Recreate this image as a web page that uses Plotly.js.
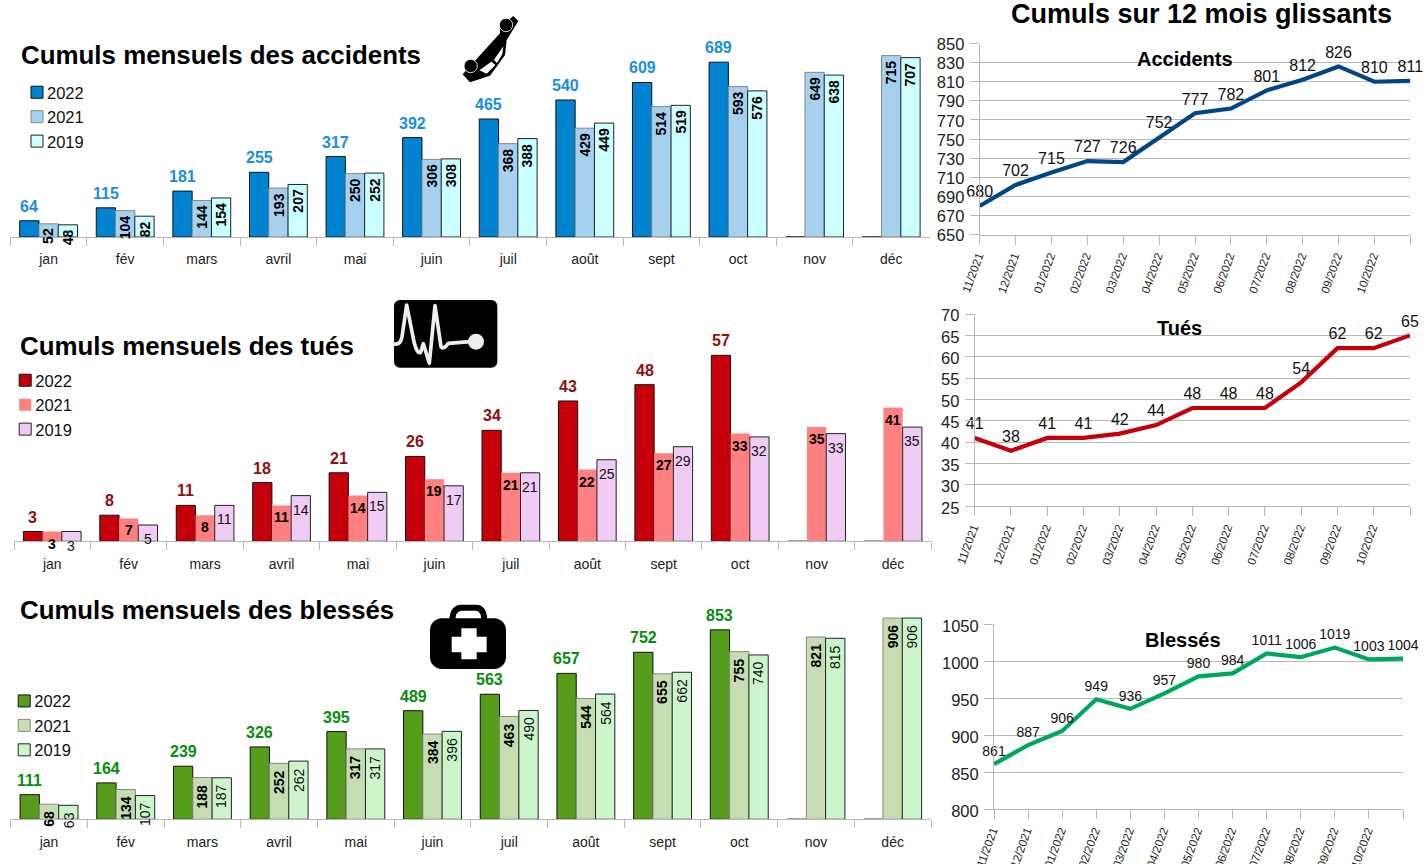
<!DOCTYPE html>
<html><head><meta charset="utf-8">
<script src="https://cdn.plot.ly/plotly-3.0.1.min.js"></script>
<style>html,body{margin:0;padding:0;background:#fff;overflow:hidden}#c{width:1424px;height:864px}
.legendtext,.legend2text,.legend3text{transform:translateX(-10px)}
.y4tick text{translate:0 0.8px}
.y5tick text,.y6tick text{translate:0 1.5px}
.x4tick text,.x5tick text,.x6tick text{translate:-1.5px 0}
</style>
</head><body><div id="c"></div>
<script>
const months = ['jan','fév','mars','avril','mai','juin','juil','août','sept','oct','nov','déc'];
const years = ['2022','2021','2019'];
const rollLabels = ['11/2021','12/2021','01/2022','02/2022','03/2022','04/2022','05/2022','06/2022','07/2022','08/2022','09/2022','10/2022',' '];

const acc2022 = [64,115,181,255,317,392,465,540,609,689,0,0];
const acc2021 = [52,104,144,193,250,306,368,429,514,593,649,715];
const acc2019 = [48,82,154,207,252,308,388,449,519,576,638,707];
const tue2022 = [3,8,11,18,21,26,34,43,48,57,0,0];
const tue2021 = [3,7,8,11,14,19,21,22,27,33,35,41];
const tue2019 = [3,5,11,14,15,17,21,25,29,32,33,35];
const ble2022 = [111,164,239,326,395,489,563,657,752,853,0,0];
const ble2021 = [68,134,188,252,317,384,463,544,655,755,821,906];
const ble2019 = [63,107,187,262,317,396,490,564,662,740,815,906];

const rollAcc = [680,702,715,727,726,752,777,782,801,812,826,810,811];
const rollTue = [41,38,41,41,42,44,48,48,48,54,62,62,65];
const rollBle = [861,887,906,949,936,957,980,984,1011,1006,1019,1003,1004];

const W=1424,H=864,FONT='"Liberation Sans",Arial,sans-serif',GRID='#b8b8b8';
const px=x=>x/W, py=y=>1-y/H;
const layout={width:W,height:H,margin:{l:0,r:0,t:0,b:0},paper_bgcolor:'#fff',plot_bgcolor:'rgba(0,0,0,0)',
  font:{family:FONT,color:'#111'},barmode:'group',bargap:0.245,bargroupgap:0,annotations:[],images:[],hovermode:false};
const traces=[];

function note(xp,yp,text,size,anchor){
  layout.annotations.push({xref:'paper',yref:'paper',x:px(xp),y:py(yp),text:'<b>'+text+'</b>',showarrow:false,
    xanchor:anchor,yanchor:'middle',borderpad:0,font:{size:size,color:'#000',family:FONT}});
}

function barChart(o){
  const n=o.n, xa='xaxis'+(n===1?'':n), ya='yaxis'+(n===1?'':n), xr='x'+(n===1?'':n), yr='y'+(n===1?'':n);
  const bw=(o.x1-o.x0)/12*(1-0.245)/3;
  const yTop=o.base-o.scale*o.ymax;
  layout[xa]={domain:[px(o.x0),px(o.x1)],anchor:yr,type:'category',categoryorder:'array',categoryarray:months,tickson:'boundaries',
    ticks:'outside',ticklen:8,tickcolor:GRID,tickwidth:1,showline:true,linecolor:GRID,linewidth:1,showgrid:false,zeroline:false,
    tickfont:{size:14,color:'#222',family:FONT},ticklabelstandoff:o.standoff,tickangle:0};
  layout[ya]={domain:[py(o.base),py(yTop)],anchor:xr,range:[0,o.ymax],visible:false};
  o.series.forEach((vals,k)=>{
    const st=o.styles[k];
    traces.push({type:'bar',name:years[k],x:months,y:vals,xaxis:xr,yaxis:yr,legend:o.legend,
      marker:{color:st.fill,line:{color:st.line,width:st.lw}},hoverinfo:'skip',cliponaxis:false});
    vals.forEach((v,i)=>{
      if(!v) return;
      const shift=(k-1)*bw, lab=o.labels[k];
      const txt=lab.bold?'<b>'+v+'</b>':String(v);
      const a={xref:xr,yref:yr,x:months[i],y:v,xshift:shift,text:txt,showarrow:false,borderpad:0,
        font:{size:lab.size,color:lab.color,family:FONT},xanchor:'center',yanchor:lab.anchor,yshift:lab.shift};
      if(lab.rot) a.textangle=-90;
      layout.annotations.push(a);
    });
  });
  const lg=o.legend;
  layout[lg]={x:px(o.lx),y:py(o.ly),xref:'paper',yref:'paper',xanchor:'left',yanchor:'top',bgcolor:'rgba(0,0,0,0)',
    font:{size:16.5,color:'#111',family:FONT},traceorder:'normal',itemclick:false,itemdoubleclick:false};
}

function lineChart(o){
  const n=o.n, xa='xaxis'+n, ya='yaxis'+n, xr='x'+n, yr='y'+n;
  layout[xa]={domain:[px(o.x0),px(o.x1)],anchor:yr,type:'category',categoryorder:'array',categoryarray:rollLabels,range:[0,12],dtick:1,tick0:0,
    ticks:'outside',ticklen:9,tickcolor:GRID,tickwidth:1,showline:true,linecolor:GRID,showgrid:false,zeroline:false,
    tickangle:-70,tickfont:{size:11.6,color:'#222',family:FONT}};
  layout[ya]={domain:[py(o.y0),py(o.y1)],anchor:xr,range:o.range,dtick:o.dtick,tick0:o.range[0],ticks:'outside',ticklen:9,tickcolor:GRID,tickwidth:1,
    showline:true,linecolor:GRID,showgrid:true,gridcolor:GRID,gridwidth:1,zeroline:false,tickfont:{size:16.5,color:'#222',family:FONT},ticklabelstandoff:2};
  traces.push({type:'scatter',mode:'lines+markers+text',x:rollLabels,y:o.vals,text:o.vals.map(String),textposition:'top center',
    marker:{size:o.gap,opacity:0,color:o.color},
    textfont:{size:o.lab,color:'#111',family:FONT},line:{color:o.color,width:4.2},xaxis:xr,yaxis:yr,cliponaxis:false,showlegend:false,hoverinfo:'skip'});
}

barChart({n:1,x0:10.3,x1:929.5,base:237,scale:0.2537,ymax:800,standoff:9,legend:'legend',lx:17,ly:75,series:[acc2022,acc2021,acc2019],
  styles:[{fill:'#0084d1',line:'#111',lw:1},{fill:'#a6d1ee',line:'#888',lw:1},{fill:'#ccffff',line:'#222',lw:1}],
  labels:[{bold:true,size:16,color:'#1a8edc',anchor:'bottom',shift:5},{bold:true,size:14,color:'#000',rot:true,anchor:'top',shift:-3.5},{bold:true,size:14,color:'#000',rot:true,anchor:'top',shift:-3.5}]});
barChart({n:2,x0:14,x1:931.3,base:541.3,scale:3.263,ymax:65,standoff:10,legend:'legend2',lx:5.2,ly:363,series:[tue2022,tue2021,tue2019],
  styles:[{fill:'#c5000b',line:'#111',lw:1},{fill:'#ff8080',line:'#ff8080',lw:0},{fill:'#f0ccf5',line:'#222',lw:1}],
  labels:[{bold:true,size:16,color:'#8e1010',anchor:'bottom',shift:5},{bold:true,size:14,color:'#000',anchor:'middle',shift:-12},{bold:false,size:14,color:'#111',anchor:'middle',shift:-14}]});
barChart({n:3,x0:10.7,x1:931,base:819.3,scale:0.2221,ymax:950,standoff:10,legend:'legend3',lx:4.2,ly:683.7,series:[ble2022,ble2021,ble2019],
  styles:[{fill:'#579d1c',line:'#111',lw:1},{fill:'#c5ddb0',line:'#888',lw:1},{fill:'#ccf5cc',line:'#222',lw:1}],
  labels:[{bold:true,size:16,color:'#068c0e',anchor:'bottom',shift:5},{bold:true,size:14,color:'#000',rot:true,anchor:'top',shift:-5.5},{bold:false,size:14,color:'#111',rot:true,anchor:'top',shift:-5.5}]});

lineChart({n:4,x0:979.7,x1:1410.3,y0:234.7,y1:43.5,range:[650,850],dtick:20,vals:rollAcc,color:'#004586',lab:16,gap:6});
lineChart({n:5,x0:974.7,x1:1410,y0:506.3,y1:314,range:[25,70],dtick:5,vals:rollTue,color:'#c5000b',lab:16,gap:6});
lineChart({n:6,x0:994,x1:1403,y0:809.3,y1:624.7,range:[800,1050],dtick:50,vals:rollBle,color:'#00a65a',lab:14,gap:6});

note(19.5,55,'Cumuls mensuels des accidents',25.9,'left');
note(18.5,346,'Cumuls mensuels des tués',25.9,'left');
note(18.5,610,'Cumuls mensuels des blessés',25.8,'left');
note(1009.5,14,'Cumuls sur 12 mois glissants',27,'left');
note(1185,59,'Accidents',20,'center');
note(1179,328,'Tués',20,'center');
note(1183,640,'Blessés',20,'center');

const svgCrash='<svg xmlns="http://www.w3.org/2000/svg" viewBox="0 0 240 255"><path d="M38 208L150 85 L150 65 L190 33 L205 48 L178 92 L170 105 L165 150 L120 212 L60 232Z" fill="#000"/><path d="M88 196L124 170 L136 180 L110 206Z M132 164 L160 124 L157 148 L141 174Z" fill="#fff"/><circle cx="62" cy="183" r="20" fill="#000" stroke="#fff" stroke-width="2.5"/><circle cx="168" cy="60" r="20" fill="#000" stroke="#fff" stroke-width="2.5"/></svg>';
const svgPulse='<svg xmlns="http://www.w3.org/2000/svg" viewBox="0 0 390 240"><rect x="42" y="15" width="310" height="203" rx="18" fill="#000"/><path d="M42 147 Q62 150 66 125 L80 30 L103 145 Q112 178 122 172 L130 146 L148 205 L165 32 L183 155 Q190 165 205 145 L270 140" fill="none" stroke="#eee" stroke-width="11" stroke-linejoin="round" stroke-linecap="round"/><circle cx="288" cy="140" r="24" fill="#eee"/></svg>';
const svgBag='<svg xmlns="http://www.w3.org/2000/svg" viewBox="0 0 300 240"><path d="M97 80 Q97 38 125 38 L168 38 Q193 38 193 80" fill="none" stroke="#000" stroke-width="18"/><rect x="30" y="70" width="228" height="152" rx="36" fill="#000"/><path d="M124 100H170V125H200V172H170V193H124V172H95V125H124Z" fill="#fff"/></svg>';
function icon(svg,x,y,w,h){
  layout.images.push({source:'data:image/svg+xml;charset=utf-8,'+encodeURIComponent(svg),xref:'paper',yref:'paper',
    x:px(x),y:py(y),sizex:w/W,sizey:h/H,xanchor:'left',yanchor:'top',sizing:'stretch',layer:'above'});
}
icon(svgCrash,450,5,80,85);
icon(svgPulse,380,295,130,80);
icon(svgBag,420,595,100,80);

Plotly.newPlot('c',traces,layout,{displayModeBar:false});
</script></body></html>
